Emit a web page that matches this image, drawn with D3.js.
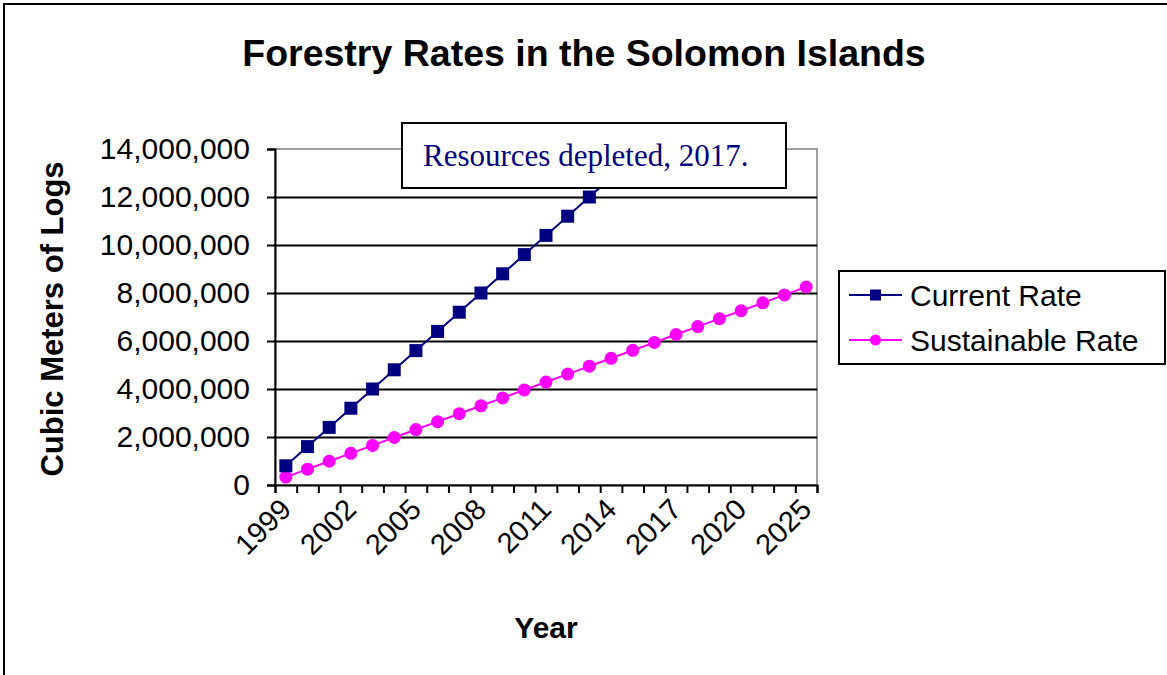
<!DOCTYPE html>
<html>
<head>
<meta charset="utf-8">
<script src="https://cdn.jsdelivr.net/npm/d3@7"></script>
<style>
  body { margin: 0; background: #fff; }
  svg { display: block; }
  text { font-family: "Liberation Sans", Arial, sans-serif; }
</style>
</head>
<body>
<svg id="chart" width="1167" height="675"></svg>
<script>
// Category axis: one slot per year
const years = ["1999","2000","2001","2002","2003","2004","2005","2006","2007","2008",
               "2009","2010","2011","2012","2013","2014","2015","2016","2017","2018",
               "2019","2020","2021","2022","2025"];

// Cubic meters of logs, cumulative
const currentRate = [800000, 1600000, 2400000, 3200000, 4000000, 4800000, 5600000,
                     6400000, 7200000, 8000000, 8800000, 9600000, 10400000, 11200000,
                     12000000, 12800000, 13600000];
const sustainableRate = [330000, 660000, 990000, 1320000, 1650000, 1980000, 2310000,
                         2640000, 2970000, 3300000, 3630000, 3960000, 4290000, 4620000,
                         4950000, 5280000, 5610000, 5940000, 6270000, 6600000, 6930000,
                         7260000, 7590000, 7920000, 8250000];

const yTicks = [0, 2000000, 4000000, 6000000, 8000000, 10000000, 12000000, 14000000];
const yearLabels = ["1999","2002","2005","2008","2011","2014","2017","2020","2025"];

const seriesNames = ["Current Rate", "Sustainable Rate"];
const seriesColors = ["#000080", "#FF00FF"];
const titleText = "Forestry Rates in the Solomon Islands";
const noteText = "Resources depleted, 2017.";

const svg = d3.select("#chart");
const plot = { left: 275, right: 817, top: 149, bottom: 485 };

// outer chart frame
svg.append("rect")
  .attr("x", 4).attr("y", 4).attr("width", 1180).attr("height", 690)
  .attr("fill", "#fff").attr("stroke", "#000").attr("stroke-width", 2);

const x = d3.scaleBand().domain(years).range([plot.left, plot.right]);
const xEdge = d3.scaleLinear().domain([0, years.length]).range([plot.left, plot.right]);
const y = d3.scaleLinear().domain([0, 14000000]).range([plot.bottom, plot.top]);
const cx = d => x(d) + x.bandwidth() / 2;

// title
svg.append("text")
  .attr("x", 584).attr("y", 66)
  .attr("text-anchor", "middle")
  .style("font-size", "37.5px").style("font-weight", "bold").style("fill", "#000")
  .text(titleText);

// plot area border (grey)
svg.append("rect")
  .attr("x", plot.left).attr("y", plot.top)
  .attr("width", plot.right - plot.left).attr("height", plot.bottom - plot.top)
  .attr("fill", "none").attr("stroke", "#808080").attr("stroke-width", 1.5);

// horizontal gridlines
svg.append("g")
  .attr("transform", `translate(${plot.left},0)`)
  .call(d3.axisLeft(y).tickValues(yTicks.slice(1, -1)).tickSize(-(plot.right - plot.left)).tickFormat(""))
  .call(g => g.select(".domain").remove())
  .call(g => g.selectAll("line").attr("stroke", "#000").attr("stroke-width", 2));

// y axis
svg.append("g")
  .attr("transform", `translate(${plot.left},0)`)
  .call(d3.axisLeft(y).tickValues(yTicks).tickSize(8).tickPadding(17).tickFormat(d3.format(",")))
  .call(g => g.select(".domain").attr("stroke", "#000").attr("stroke-width", 2))
  .call(g => g.selectAll(".tick line").attr("stroke", "#000").attr("stroke-width", 2))
  .call(g => g.selectAll(".tick text")
    .style("font-family", "'Liberation Sans', Arial, sans-serif")
    .style("font-size", "30px").style("fill", "#000"));

// x axis: tick marks between categories
svg.append("g")
  .attr("transform", `translate(0,${plot.bottom})`)
  .call(d3.axisBottom(xEdge).tickValues(d3.range(years.length + 1)).tickSize(8).tickFormat(""))
  .call(g => g.select(".domain").attr("stroke", "#000").attr("stroke-width", 2))
  .call(g => g.selectAll(".tick line").attr("stroke", "#000").attr("stroke-width", 2));

// x labels, rotated
svg.append("g").selectAll("text")
  .data(yearLabels)
  .join("text")
  .attr("transform", d => `translate(${cx(d) + 7},${plot.bottom + 26}) rotate(-45)`)
  .attr("text-anchor", "end")
  .style("font-size", "29px").style("fill", "#000")
  .text(d => d);

// axis titles
svg.append("text")
  .attr("x", (plot.left + plot.right) / 2).attr("y", 638)
  .attr("text-anchor", "middle")
  .style("font-size", "30px").style("font-weight", "bold").style("fill", "#000")
  .text("Year");

svg.append("text")
  .attr("transform", `translate(63,${(plot.top + plot.bottom) / 2 + 2}) rotate(-90)`)
  .attr("text-anchor", "middle")
  .style("font-size", "31px").style("font-weight", "bold").style("fill", "#000")
  .text("Cubic Meters of Logs");

// series
svg.append("clipPath").attr("id", "plotClip")
  .append("rect")
  .attr("x", plot.left - 10).attr("y", plot.top)
  .attr("width", plot.right - plot.left + 20).attr("height", plot.bottom - plot.top + 10);

const series = svg.append("g").attr("clip-path", "url(#plotClip)");
const line = d3.line().x((d, i) => cx(years[i])).y(d => y(d));

series.append("path")
  .datum(sustainableRate)
  .attr("d", line)
  .attr("fill", "none").attr("stroke", seriesColors[1]).attr("stroke-width", 2);

series.append("g").selectAll("circle")
  .data(sustainableRate)
  .join("circle")
  .attr("cx", (d, i) => cx(years[i])).attr("cy", d => y(d))
  .attr("r", 6.5).attr("fill", seriesColors[1]);

series.append("path")
  .datum(currentRate)
  .attr("d", line)
  .attr("fill", "none").attr("stroke", seriesColors[0]).attr("stroke-width", 2);

series.append("g").selectAll("rect")
  .data(currentRate)
  .join("rect")
  .attr("x", (d, i) => cx(years[i]) - 6.5).attr("y", d => y(d) - 6.5)
  .attr("width", 13).attr("height", 13).attr("fill", seriesColors[0]);

// annotation box
svg.append("rect")
  .attr("x", 402).attr("y", 123).attr("width", 384).attr("height", 65)
  .attr("fill", "#fff").attr("stroke", "#000").attr("stroke-width", 2);
svg.append("text")
  .attr("x", 423).attr("y", 166)
  .style("font-family", "'Liberation Serif', 'Times New Roman', serif")
  .style("font-size", "31px").style("fill", "#000080")
  .text(noteText);

// legend
const legend = svg.append("g");
legend.append("rect")
  .attr("x", 839).attr("y", 271).attr("width", 326).attr("height", 93)
  .attr("fill", "#fff").attr("stroke", "#000").attr("stroke-width", 2);

const rows = legend.selectAll("g.row")
  .data(seriesNames)
  .join("g").attr("class", "row")
  .attr("transform", (d, i) => `translate(0,${i === 0 ? 295 : 340})`);

rows.append("line")
  .attr("x1", 849).attr("x2", 902).attr("y1", 0).attr("y2", 0)
  .attr("stroke", (d, i) => seriesColors[i]).attr("stroke-width", 2);

rows.filter((d, i) => i === 0).append("rect")
  .attr("x", 870).attr("y", -5.5).attr("width", 11).attr("height", 11)
  .attr("fill", seriesColors[0]);
rows.filter((d, i) => i === 1).append("circle")
  .attr("cx", 875.5).attr("cy", 0).attr("r", 5.5)
  .attr("fill", seriesColors[1]);

rows.append("text")
  .attr("x", 910).attr("y", 11)
  .style("font-size", "30px").style("fill", "#000")
  .text(d => d);
</script>
</body>
</html>
